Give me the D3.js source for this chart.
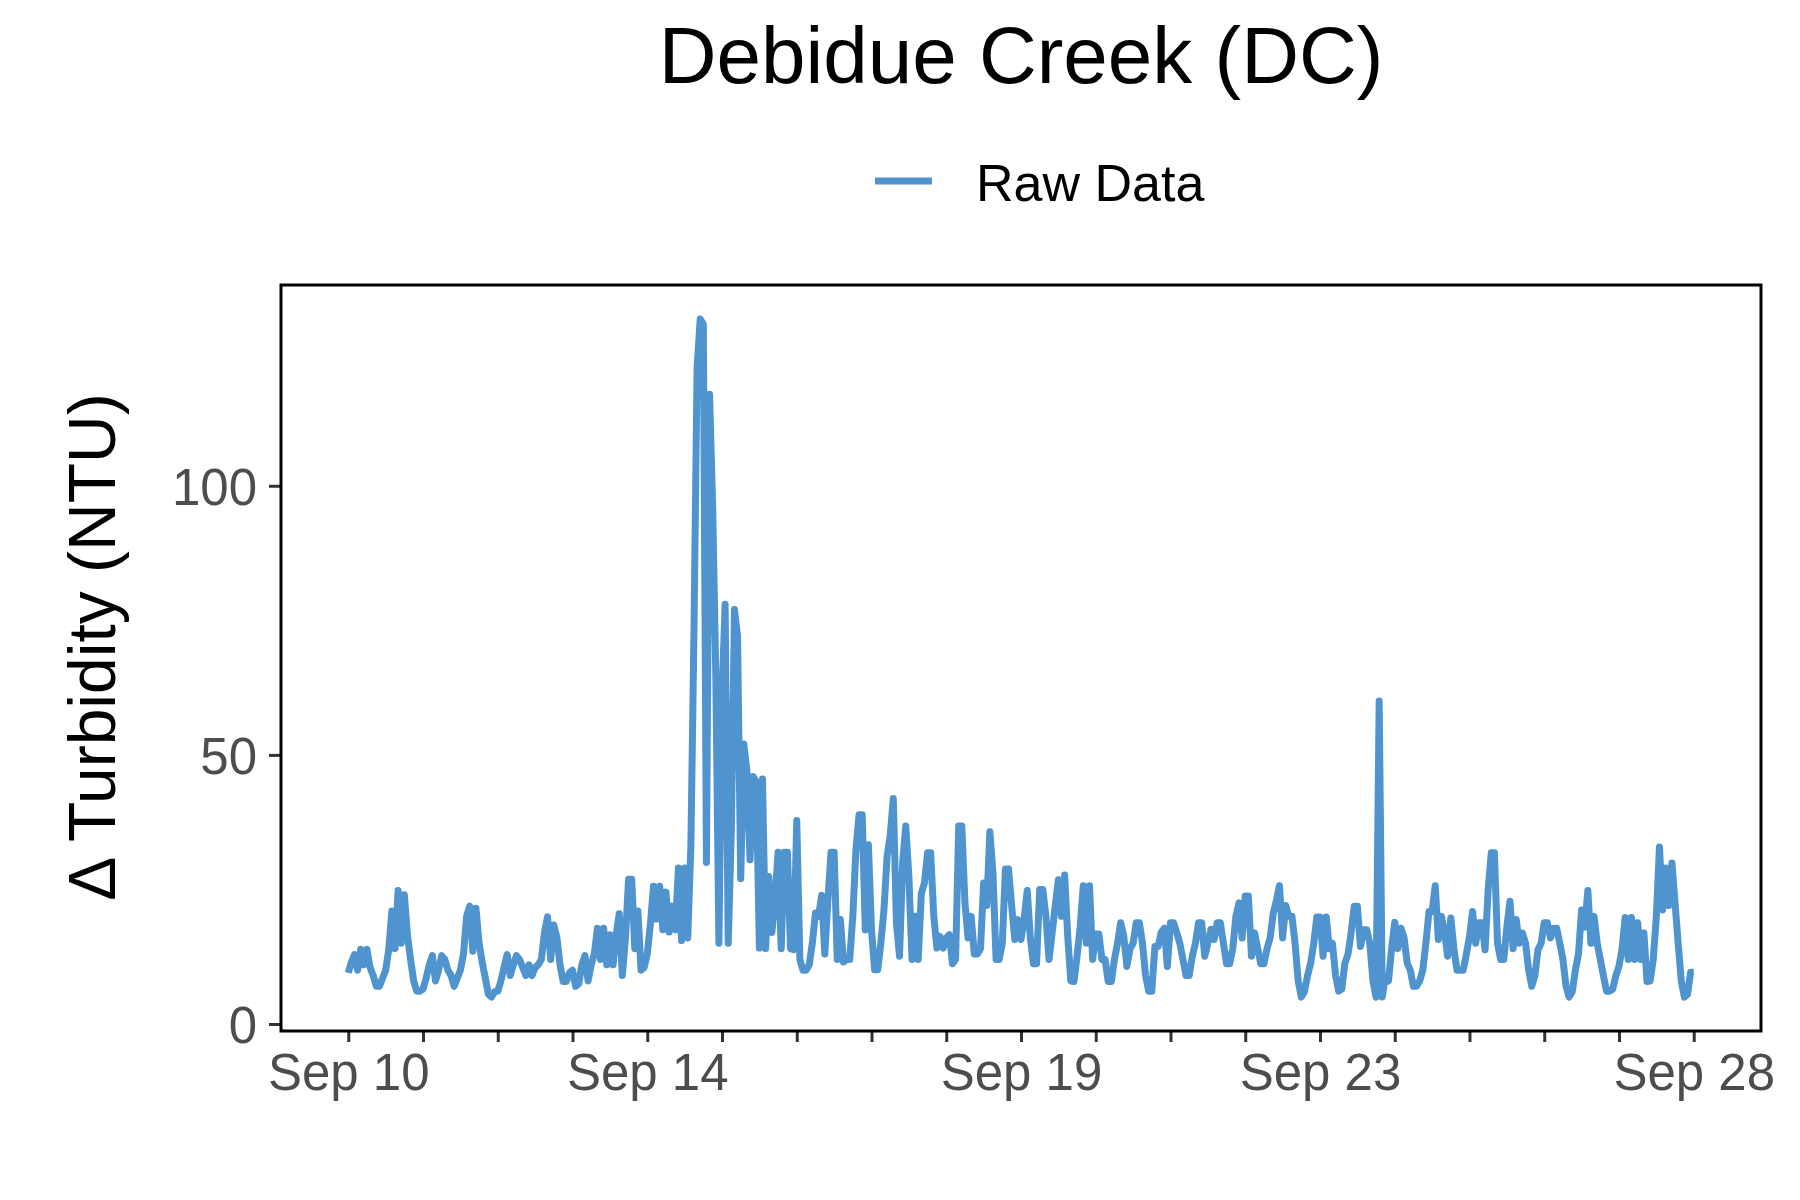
<!DOCTYPE html>
<html>
<head>
<meta charset="utf-8">
<script src="https://cdn.jsdelivr.net/npm/d3@7"></script>
<style>
  body { margin: 0; background: #fff; }
  svg text { font-family: "Liberation Sans", Arial, sans-serif; }
</style>
</head>
<body>
<svg id="chart" width="1800" height="1200"></svg>
<script>
// Debidue Creek (DC) - change in turbidity, hourly readings from Sep 10 00:00
var startTime = Date.UTC(2019, 8, 10, 0);
var turbidity = [
    // Sep 10
    9.5, 11.5, 12.9, 10, 13.9, 11, 13.9, 10.5, 9, 7, 7, 8.5,
    10, 13.8, 21, 14, 24.8, 15, 24, 16.5, 12, 8, 6.1, 6.1,
    // Sep 11
    6.5, 8.5, 11, 12.7, 8, 10, 12.7, 12, 10, 9, 7, 8.5,
    10, 13, 20, 21.9, 13.5, 21.5, 15, 11.5, 8.5, 5.5, 5, 6,
    // Sep 12
    6.1, 8, 10.5, 12.9, 9, 11, 12.7, 12, 10.5, 9, 11, 9,
    10.5, 11, 12, 17, 19.9, 12, 18.4, 16, 11, 7.9, 7.9, 9.5,
    // Sep 13
    10, 7, 7.5, 11, 12.7, 8, 11, 13, 17.8, 12, 17.8, 11,
    16.6, 11, 16.6, 20.5, 9, 16, 26.9, 26.9, 14, 21, 10, 10.5,
    // Sep 14
    13, 18.5, 25.6, 19.5, 25.6, 17.5, 24.5, 17.1, 21.9, 17.5, 29, 15.5,
    29, 16, 33, 73, 122, 131, 130, 30, 117, 96, 65, 15,
    // Sep 15
    61, 78, 15, 36, 77, 72, 27, 52, 47, 30.5, 46, 45,
    14.1, 45.5, 14, 27.4, 17, 23, 31.9, 14, 31.9, 31.9, 14, 13.8,
    // Sep 16
    37.8, 12, 10, 10, 11, 15, 20.6, 20, 23.9, 13, 23, 31.9,
    31.9, 12, 19.4, 11.5, 12, 12, 20, 32.4, 38.9, 38.9, 17.5, 33.3,
    // Sep 17
    17.5, 10.1, 10.1, 15, 21.2, 31.1, 35, 41.9, 18.8, 12.6, 30, 36.8,
    27.4, 12, 20, 12, 24.3, 26.2, 31.8, 31.8, 20, 14.1, 16.3, 14.1,
    // Sep 18
    16, 16.6, 11.2, 12, 36.8, 36.8, 22.5, 16, 20, 13, 13, 14,
    26.2, 22, 35.7, 28, 12, 12, 15, 28.8, 28.8, 22, 15.7, 19.4,
    // Sep 19
    15.7, 19.4, 24.8, 16, 11.2, 11.2, 25, 25, 20, 12, 16.9, 22,
    26.8, 20, 27.7, 16.3, 8, 7.9, 12.6, 18, 25.7, 15, 25.7, 12,
    // Sep 20
    16.7, 16.7, 12, 12, 7.9, 7.9, 12, 15, 18.8, 16.3, 10.7, 14,
    15, 18.8, 18.8, 15, 9, 6.1, 6.1, 14.4, 14.4, 17, 17.8, 10.7,
    // Sep 21
    18.8, 18.8, 17, 15, 12, 9, 9, 12.6, 15, 18.8, 18.8, 12.6,
    15, 17.6, 15.7, 18.8, 18.8, 15, 11.2, 11.2, 14, 20, 22.5, 16,
    // Sep 22
    23.8, 23.8, 12.6, 16.9, 14, 11.2, 11.2, 14, 16, 20.6, 23, 25.7,
    16, 22, 20, 20, 15, 8, 5, 6, 9, 11.3, 15, 19.9,
    // Sep 23
    19.9, 12.6, 19.9, 14, 15, 9, 6.1, 6.5, 11.3, 13, 17, 21.9,
    21.9, 14.4, 17.5, 17.5, 15, 8, 5, 60, 5, 8.8, 8, 14,
    // Sep 24
    18.9, 14, 17.8, 16, 11.3, 10, 7, 7, 8, 10, 15, 20.9,
    20.9, 25.7, 15.7, 20, 17, 12.6, 19.7, 14, 10, 10, 10, 13,
    // Sep 25
    16.3, 20.9, 15, 18.8, 18.8, 13.8, 25, 31.8, 31.8, 15, 12, 12,
    18, 22.8, 14, 19.4, 15, 16.9, 15, 10, 7, 9, 13.8, 15,
    // Sep 26
    18.8, 18.8, 16, 17.8, 17.8, 15, 12, 7, 5, 6, 10, 13,
    21.2, 18, 24.8, 15, 20, 15, 12, 9, 6.1, 6.1, 6.5, 9,
    // Sep 27
    10.7, 14, 19.8, 12, 19.8, 12, 18.8, 12, 16.9, 7.9, 8, 12,
    20, 32.9, 21.2, 29, 22, 29.9, 22.5, 15, 8, 5, 5.5, 9.6,
    // Sep 28
    9.6
];
var tickDays = [10, 11, 12, 13, 14, 15, 16, 17, 18, 19, 20, 21, 22, 23, 24, 25, 26, 27, 28];
var labelDays = [10, 14, 19, 23, 28];
var yTicks = [0, 50, 100];

var titleText = "Debidue Creek (DC)";
var legendText = "Raw Data";
var yTitle = "\u0394 Turbidity (NTU)";
var lineColor = "#5094cf";

// panel box in pixels
var panel = { left: 281, right: 1761, top: 285, bottom: 1031 };

var data = turbidity.map(function(v, i) {
    return { t: new Date(startTime + i * 3600 * 1000), v: v };
});

var svg = d3.select("#chart");

// ggplot-like 5% expansion on both scales
var tExt = d3.extent(data, function(d) { return d.t.getTime(); });
var tPad = (tExt[1] - tExt[0]) * 0.05;
var x = d3.scaleUtc()
    .domain([new Date(tExt[0] - tPad), new Date(tExt[1] + tPad)])
    .range([panel.left, panel.right]);

var vExt = d3.extent(data, function(d) { return d.v; });
var vPad = (vExt[1] - vExt[0]) * 0.05;
var y = d3.scaleLinear()
    .domain([vExt[0] - vPad, vExt[1] + vPad])
    .range([panel.bottom, panel.top]);

// Axes
var xAxis = d3.axisBottom(x)
    .tickValues(tickDays.map(function(d) { return new Date(Date.UTC(2019, 8, d)); }))
    .tickSize(11)
    .tickPadding(12)
    .tickFormat(function(d) {
        return labelDays.indexOf(d.getUTCDate()) >= 0 ? "Sep " + d.getUTCDate() : "";
    });

var yAxis = d3.axisLeft(y)
    .tickValues(yTicks)
    .tickSize(12)
    .tickPadding(12);

var gx = svg.append("g")
    .attr("transform", "translate(0," + panel.bottom + ")")
    .call(xAxis);
var gy = svg.append("g")
    .attr("transform", "translate(" + panel.left + ",0)")
    .call(yAxis);

[gx, gy].forEach(function(g) {
    g.select(".domain").remove();
    g.selectAll(".tick line").attr("stroke", "#333333").attr("stroke-width", 3);
    g.selectAll(".tick text")
        .attr("fill", "#4d4d4d")
        .style("font-size", "51px");
});
gy.selectAll(".tick text").attr("dy", "0.36em");

// The series
var line = d3.line()
    .x(function(d) { return x(d.t); })
    .y(function(d) { return y(d.v); });

svg.append("path")
    .datum(data)
    .attr("fill", "none")
    .attr("stroke", lineColor)
    .attr("stroke-width", 7)
    .attr("stroke-linejoin", "round")
    .attr("d", line);

// panel border
svg.append("rect")
    .attr("x", panel.left)
    .attr("y", panel.top)
    .attr("width", panel.right - panel.left)
    .attr("height", panel.bottom - panel.top)
    .attr("fill", "none")
    .attr("stroke", "#000")
    .attr("stroke-width", 3);

// Title
svg.append("text")
    .attr("x", (panel.left + panel.right) / 2)
    .attr("y", 83)
    .attr("text-anchor", "middle")
    .style("font-size", "80px")
    .attr("fill", "#000")
    .text(titleText);

// Legend
svg.append("line")
    .attr("x1", 875).attr("x2", 932)
    .attr("y1", 181).attr("y2", 181)
    .attr("stroke", lineColor)
    .attr("stroke-width", 7);
svg.append("text")
    .attr("x", 976)
    .attr("y", 201)
    .style("font-size", "52px")
    .attr("fill", "#000")
    .text(legendText);

// Y axis title
svg.append("text")
    .attr("transform", "translate(115,647) rotate(-90)")
    .attr("text-anchor", "middle")
    .style("font-size", "66px")
    .attr("fill", "#000")
    .text(yTitle);
</script>
</body>
</html>
